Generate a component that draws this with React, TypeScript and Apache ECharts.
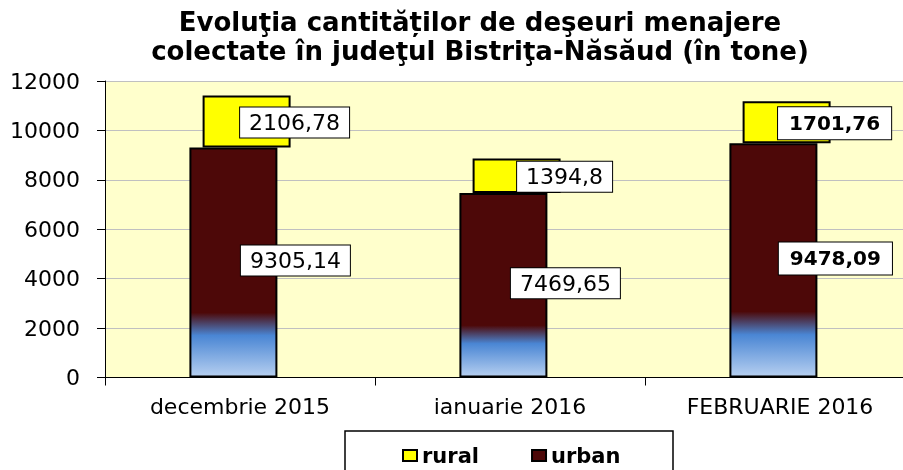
import React, { useEffect, useRef } from "react";
import * as echarts from "echarts";

const categories = ["decembrie 2015", "ianuarie 2016", "FEBRUARIE 2016"];
const urban = [9305.14, 7469.65, 9478.09];
const rural = [2106.78, 1394.8, 1701.76];
const boldCategory = 2;
const titleText =
  "Evoluţia cantităților de deşeuri menajere\ncolectate în judeţul Bistriţa-Năsăud (în tone)";

const FONT = "DejaVu Sans";
const fmt = (v: number) => String(v).replace(".", ",");

export default function App() {
  const ref = useRef<HTMLDivElement>(null);
  useEffect(() => {
    document.body.style.margin = "0";
    const chart = echarts.init(ref.current!, undefined, { renderer: "svg" });
    const labelBase = {
      show: true,
      position: "inside" as const,
      fontFamily: FONT,
      fontSize: 22,
      color: "#000",
      backgroundColor: "#fff",
      borderColor: "#000",
      borderWidth: 1,
      padding: [4, 9],
      lineHeight: 22,
      formatter: (p: any) => fmt(p.value),
    };
    const boldLabel = { fontWeight: "bold", fontSize: 20, padding: [5, 11] };
    const urbanGrad = new echarts.graphic.LinearGradient(0, 0, 0, 1, [
      { offset: 0, color: "#4d0808" },
      { offset: 0.72, color: "#4d0808" },
      { offset: 0.82, color: "#4a86d4" },
      { offset: 1, color: "#b6cff0" },
    ]);
    chart.setOption({
      animation: false,
      grid: {
        left: 105,
        top: 81,
        width: 810,
        height: 296.5,
        show: true,
        backgroundColor: "#ffffcc",
        borderWidth: 0,
        containLabel: false,
        outerBoundsMode: "none",
      },
      legend: {
        left: 397,
        top: 440,
        itemWidth: 14,
        itemHeight: 11,
        itemGap: 52,
        icon: "rect",
        textStyle: { fontFamily: FONT, fontSize: 21, fontWeight: "bold", color: "#000", padding: [0, 0, 0, 0] },
        data: [
          { name: "rural", itemStyle: { color: "#ffff00", borderColor: "#000", borderWidth: 2 } },
          { name: "urban", itemStyle: { color: "#4d0808", borderColor: "#000", borderWidth: 2 } },
        ],
      },
      graphic: [
        {
          type: "rect",
          shape: { x: 345, y: 431, width: 328, height: 60 },
          style: { fill: "transparent", stroke: "#000", lineWidth: 1.5 },
          silent: true,
        },
        {
          type: "text",
          x: 480,
          y: 7,
          style: {
            text: titleText,
            textAlign: "center",
            textVerticalAlign: "top",
            fontFamily: FONT,
            fontWeight: "bold",
            fontSize: 26,
            lineHeight: 29,
            fill: "#000",
          },
        },
      ],
      xAxis: {
        type: "category",
        data: categories,
        axisLine: { lineStyle: { color: "#000", width: 1 } },
        axisTick: { show: true, length: 8, lineStyle: { color: "#000" } },
        axisLabel: { fontFamily: FONT, fontSize: 22, color: "#000", margin: 18 },
      },
      yAxis: {
        type: "value",
        min: 0,
        max: 12000,
        interval: 2000,
        axisLine: { show: true, lineStyle: { color: "#000", width: 1 } },
        axisTick: { show: true, length: 8, lineStyle: { color: "#000" } },
        axisLabel: {
          fontFamily: FONT,
          fontSize: 22,
          color: "#000",
          margin: 25,
          formatter: (v: number) => String(v),
        },
        splitLine: { lineStyle: { color: "#c0c0c0", width: 1 } },
      },
      series: [
        {
          name: "urban",
          type: "bar",
          stack: "a",
          barWidth: 88,
          barGap: "-85%",
          itemStyle: { color: urbanGrad, borderColor: "#000", borderWidth: 2 },
          label: { ...labelBase, offset: [62, -2] },
          data: urban.map((v, i) =>
            i === boldCategory ? { value: v, label: boldLabel } : v
          ),
          z: 3,
        },
        {
          name: "base",
          type: "bar",
          stack: "b",
          barWidth: 88,
          barGap: "-85%",
          silent: true,
          itemStyle: { color: "transparent", borderWidth: 0 },
          data: urban,
          z: 2,
        },
        {
          name: "rural",
          type: "bar",
          stack: "b",
          barWidth: 88,
          barGap: "-85%",
          itemStyle: { color: "#ffff00", borderColor: "#000", borderWidth: 2 },
          label: { ...labelBase, offset: [48, 1] },
          data: rural.map((v, i) =>
            i === boldCategory ? { value: v, label: boldLabel } : v
          ),
          z: 2,
        },
      ],
    });
    return () => chart.dispose();
  }, []);
  return (
    <div
      ref={ref}
      style={{ position: "fixed", left: 0, top: 0, width: 903, height: 470 }}
    />
  );
}
